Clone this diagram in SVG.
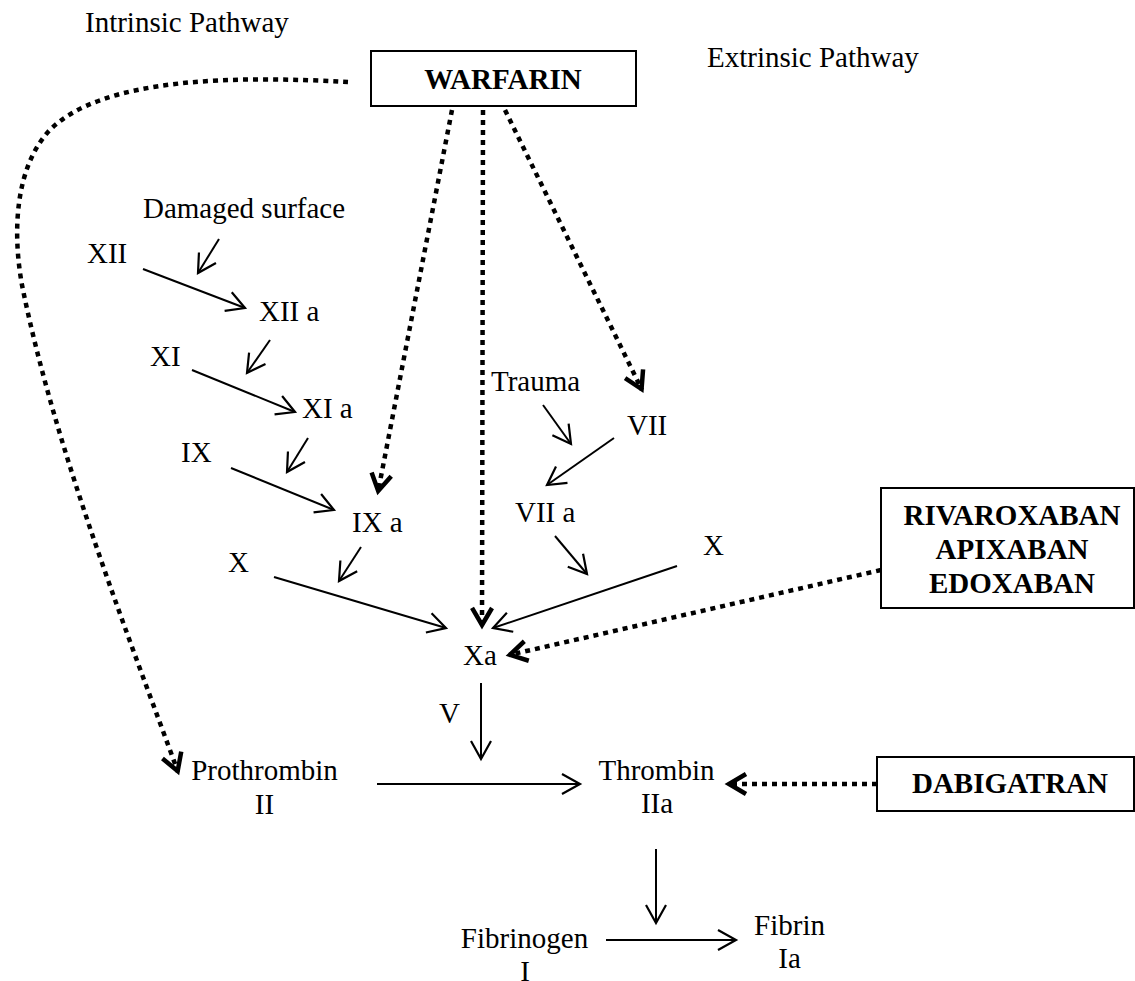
<svg xmlns="http://www.w3.org/2000/svg" width="1135" height="981" viewBox="0 0 1135 981">
<style>
text{font-family:"Liberation Serif","Times New Roman",serif;font-size:29px;fill:#000}
.b{font-weight:bold;text-anchor:middle}
.m{text-anchor:middle}
.box{fill:#fff;stroke:#000;stroke-width:2}
.s{fill:none;stroke:#000;stroke-width:2;marker-end:url(#open)}
.d{fill:none;stroke:#000;stroke-width:4.5;stroke-dasharray:5 5;marker-end:url(#dopen)}
</style>
<defs>
<marker id="open" viewBox="-22 -13 26 26" refX="0" refY="0" markerWidth="26" markerHeight="26" markerUnits="userSpaceOnUse" orient="auto">
<path d="M-18,-10 L0,0 L-18,10" fill="none" stroke="#000" stroke-width="2.2"/>
</marker>
<marker id="dopen" viewBox="-24 -14 28 28" refX="0" refY="0" markerWidth="28" markerHeight="28" markerUnits="userSpaceOnUse" orient="auto">
<path d="M-18,-10 L-1,0 L-18,10" fill="none" stroke="#000" stroke-width="4.5"/>
</marker>
</defs>
<rect width="1135" height="981" fill="#fff"/>

<g id="connectors">
<path class="d" d="M348,82 C240,76 100,76 48,132 C16,168 12,230 22,285 C55,450 130,640 178,772"/>
<line class="d" x1="452" y1="110" x2="378" y2="492"/>
<line class="d" x1="483" y1="110" x2="482" y2="626"/>
<line class="d" x1="505" y1="110" x2="642" y2="390"/>
<line class="d" x1="881" y1="570" x2="509" y2="655"/>
<line class="d" x1="877" y1="784" x2="728" y2="784"/>

<line class="s" x1="219" y1="239" x2="198" y2="273"/>
<line class="s" x1="143" y1="269" x2="245" y2="308"/>
<line class="s" x1="270" y1="340" x2="247" y2="373"/>
<line class="s" x1="192" y1="370" x2="295" y2="412"/>
<line class="s" x1="308" y1="438" x2="287" y2="472"/>
<line class="s" x1="231" y1="468" x2="334" y2="510"/>
<line class="s" x1="361" y1="547" x2="339" y2="581"/>
<line class="s" x1="274" y1="577" x2="446" y2="628"/>
<line class="s" x1="543" y1="405" x2="571" y2="444"/>
<line class="s" x1="614" y1="438" x2="547" y2="485"/>
<line class="s" x1="555" y1="536" x2="587" y2="574"/>
<line class="s" x1="677" y1="566" x2="493" y2="628"/>
<line class="s" x1="481" y1="683" x2="481" y2="759"/>
<line class="s" x1="377" y1="784" x2="580" y2="784"/>
<line class="s" x1="656" y1="849" x2="656" y2="923"/>
<line class="s" x1="606" y1="940" x2="736" y2="940"/>
</g>

<g id="labels">
<text x="85" y="32">Intrinsic Pathway</text>
<text x="707" y="67">Extrinsic Pathway</text>
</g>

<g id="warfarin">
<rect class="box" x="371" y="51" width="265" height="55"/>
<text class="b" x="503" y="89">WARFARIN</text>
</g>
<g id="xa-inhibitors">
<rect class="box" x="881" y="488" width="253" height="120"/>
<text class="b" x="1012" y="525">RIVAROXABAN</text>
<text class="b" x="1012" y="559">APIXABAN</text>
<text class="b" x="1012" y="593">EDOXABAN</text>
</g>
<g id="dabigatran">
<rect class="box" x="877" y="757" width="257" height="54"/>
<text class="b" x="1010" y="793">DABIGATRAN</text>
</g>

<g id="damaged"><text x="143" y="218">Damaged surface</text></g>
<g id="xii"><text x="87" y="263">XII</text></g>
<g id="xiia"><text x="259" y="321">XII a</text></g>
<g id="xi"><text x="150" y="366">XI</text></g>
<g id="xia"><text x="302" y="418">XI a</text></g>
<g id="ix"><text x="181" y="462">IX</text></g>
<g id="ixa"><text x="352" y="532">IX a</text></g>
<g id="x-left"><text x="228" y="572">X</text></g>
<g id="trauma"><text x="491" y="391">Trauma</text></g>
<g id="vii"><text x="627" y="435">VII</text></g>
<g id="viia"><text x="515" y="522">VII a</text></g>
<g id="x-right"><text x="703" y="555">X</text></g>
<g id="xa"><text x="463" y="665">Xa</text></g>
<g id="v"><text x="439" y="723">V</text></g>
<g id="prothrombin"><text class="m" x="264.5" y="780">Prothrombin</text><text class="m" x="264.5" y="814">II</text></g>
<g id="thrombin"><text class="m" x="656.5" y="780">Thrombin</text><text class="m" x="657" y="813">IIa</text></g>
<g id="fibrinogen"><text class="m" x="524.5" y="948">Fibrinogen</text><text class="m" x="525" y="981">I</text></g>
<g id="fibrin"><text class="m" x="789.5" y="935">Fibrin</text><text class="m" x="789.5" y="968">Ia</text></g>
</svg>
